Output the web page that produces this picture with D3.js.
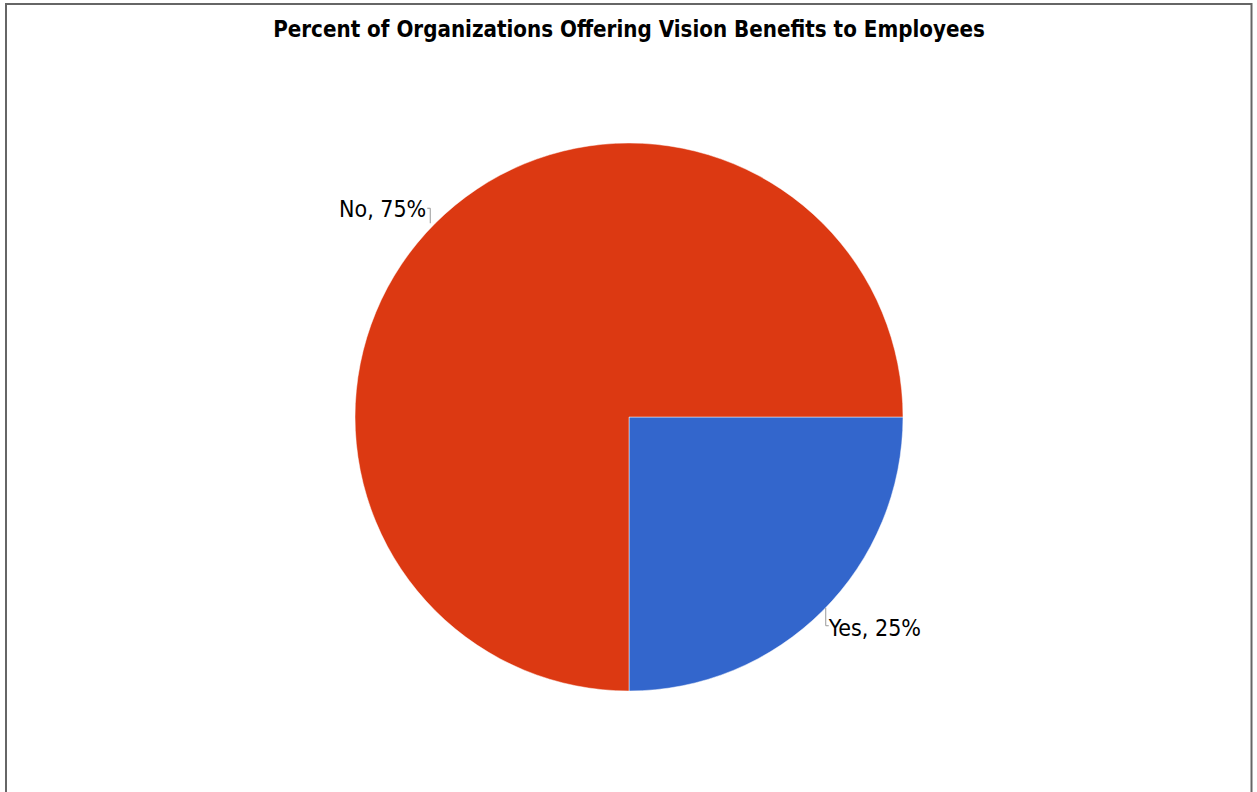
<!DOCTYPE html>
<html>
<head>
<meta charset="utf-8">
<script src="https://cdn.jsdelivr.net/npm/d3@7"></script>
<style>
  html, body { margin: 0; padding: 0; background: #fff; }
  svg { display: block; }
</style>
</head>
<body>
<svg id="chart" width="1257" height="792"></svg>
<script>
// Survey answers and their shares (percent)
const categories = ["Yes", "No"];
const values = [25, 75];
const colors = ["#3366CC", "#DC3912"];
const title = "Percent of Organizations Offering Vision Benefits to Employees";

const W = 1257, H = 792;
const cx = 629, cy = 417, R = 274;

const svg = d3.select("#chart");

// Frame around the chart area (bottom edge runs past the viewport)
svg.append("rect")
  .attr("x", 6).attr("y", 4)
  .attr("width", 1245.5).attr("height", 820)
  .attr("fill", "none")
  .attr("stroke", "#666")
  .attr("stroke-width", 2);

// Title, fitted to its intended width
const t = svg.append("text")
  .attr("x", cx).attr("y", 37)
  .attr("text-anchor", "middle")
  .attr("font-family", "'DejaVu Sans Condensed', 'DejaVu Sans', sans-serif")
  .attr("font-stretch", "condensed")
  .attr("font-weight", "bold")
  .attr("font-size", 21)
  .attr("fill", "#000")
  .text(title);
const tw = t.node().getComputedTextLength();
t.attr("font-size", 21 * 712 / tw);

const data = categories.map((c, i) => ({ cat: c, value: values[i], color: colors[i] }));

// Slices start at 3 o'clock and run clockwise
const pie = d3.pie().value(d => d.value).sort(null)
  .startAngle(Math.PI / 2).endAngle(Math.PI / 2 + 2 * Math.PI);
const arcs = pie(data);
const arc = d3.arc().innerRadius(0).outerRadius(R);

const g = svg.append("g").attr("transform", `translate(${cx},${cy})`);
g.selectAll("path.slice")
  .data(arcs)
  .join("path")
  .attr("class", "slice")
  .attr("d", arc)
  .attr("fill", d => d.data.color)
  .attr("stroke", "#ffffff")
  .attr("stroke-opacity", 0.6)
  .attr("stroke-width", 0.8);

// Outside labels with short leader lines
const labelFont = "'DejaVu Sans Condensed', 'DejaVu Sans', sans-serif";
arcs.forEach(d => {
  const mid = (d.startAngle + d.endAngle) / 2;
  const px = Math.sin(mid) * R;
  const py = -Math.cos(mid) * R;
  const right = px > 0;
  let pts, tx, ty, anchor;
  if (right) {
    pts = [[px + 3, py - 3], [px + 3, py + 15], [px + 6, py + 15]];
    tx = px + 6; ty = py + 25; anchor = "start";
  } else {
    pts = [[px - 5, py], [px - 5, py - 15], [px - 8, py - 15]];
    tx = px - 9; ty = py - 6; anchor = "end";
  }
  g.append("path")
    .attr("d", d3.line()(pts))
    .attr("fill", "none")
    .attr("stroke", "#9a9a9a")
    .attr("stroke-width", 1);
  g.append("text")
    .attr("x", tx).attr("y", ty)
    .attr("text-anchor", anchor)
    .attr("font-family", labelFont)
    .attr("font-stretch", "condensed")
    .attr("font-size", 23)
    .attr("fill", "#000")
    .text(`${d.data.cat}, ${d.data.value}%`);
});
</script>
</body>
</html>
